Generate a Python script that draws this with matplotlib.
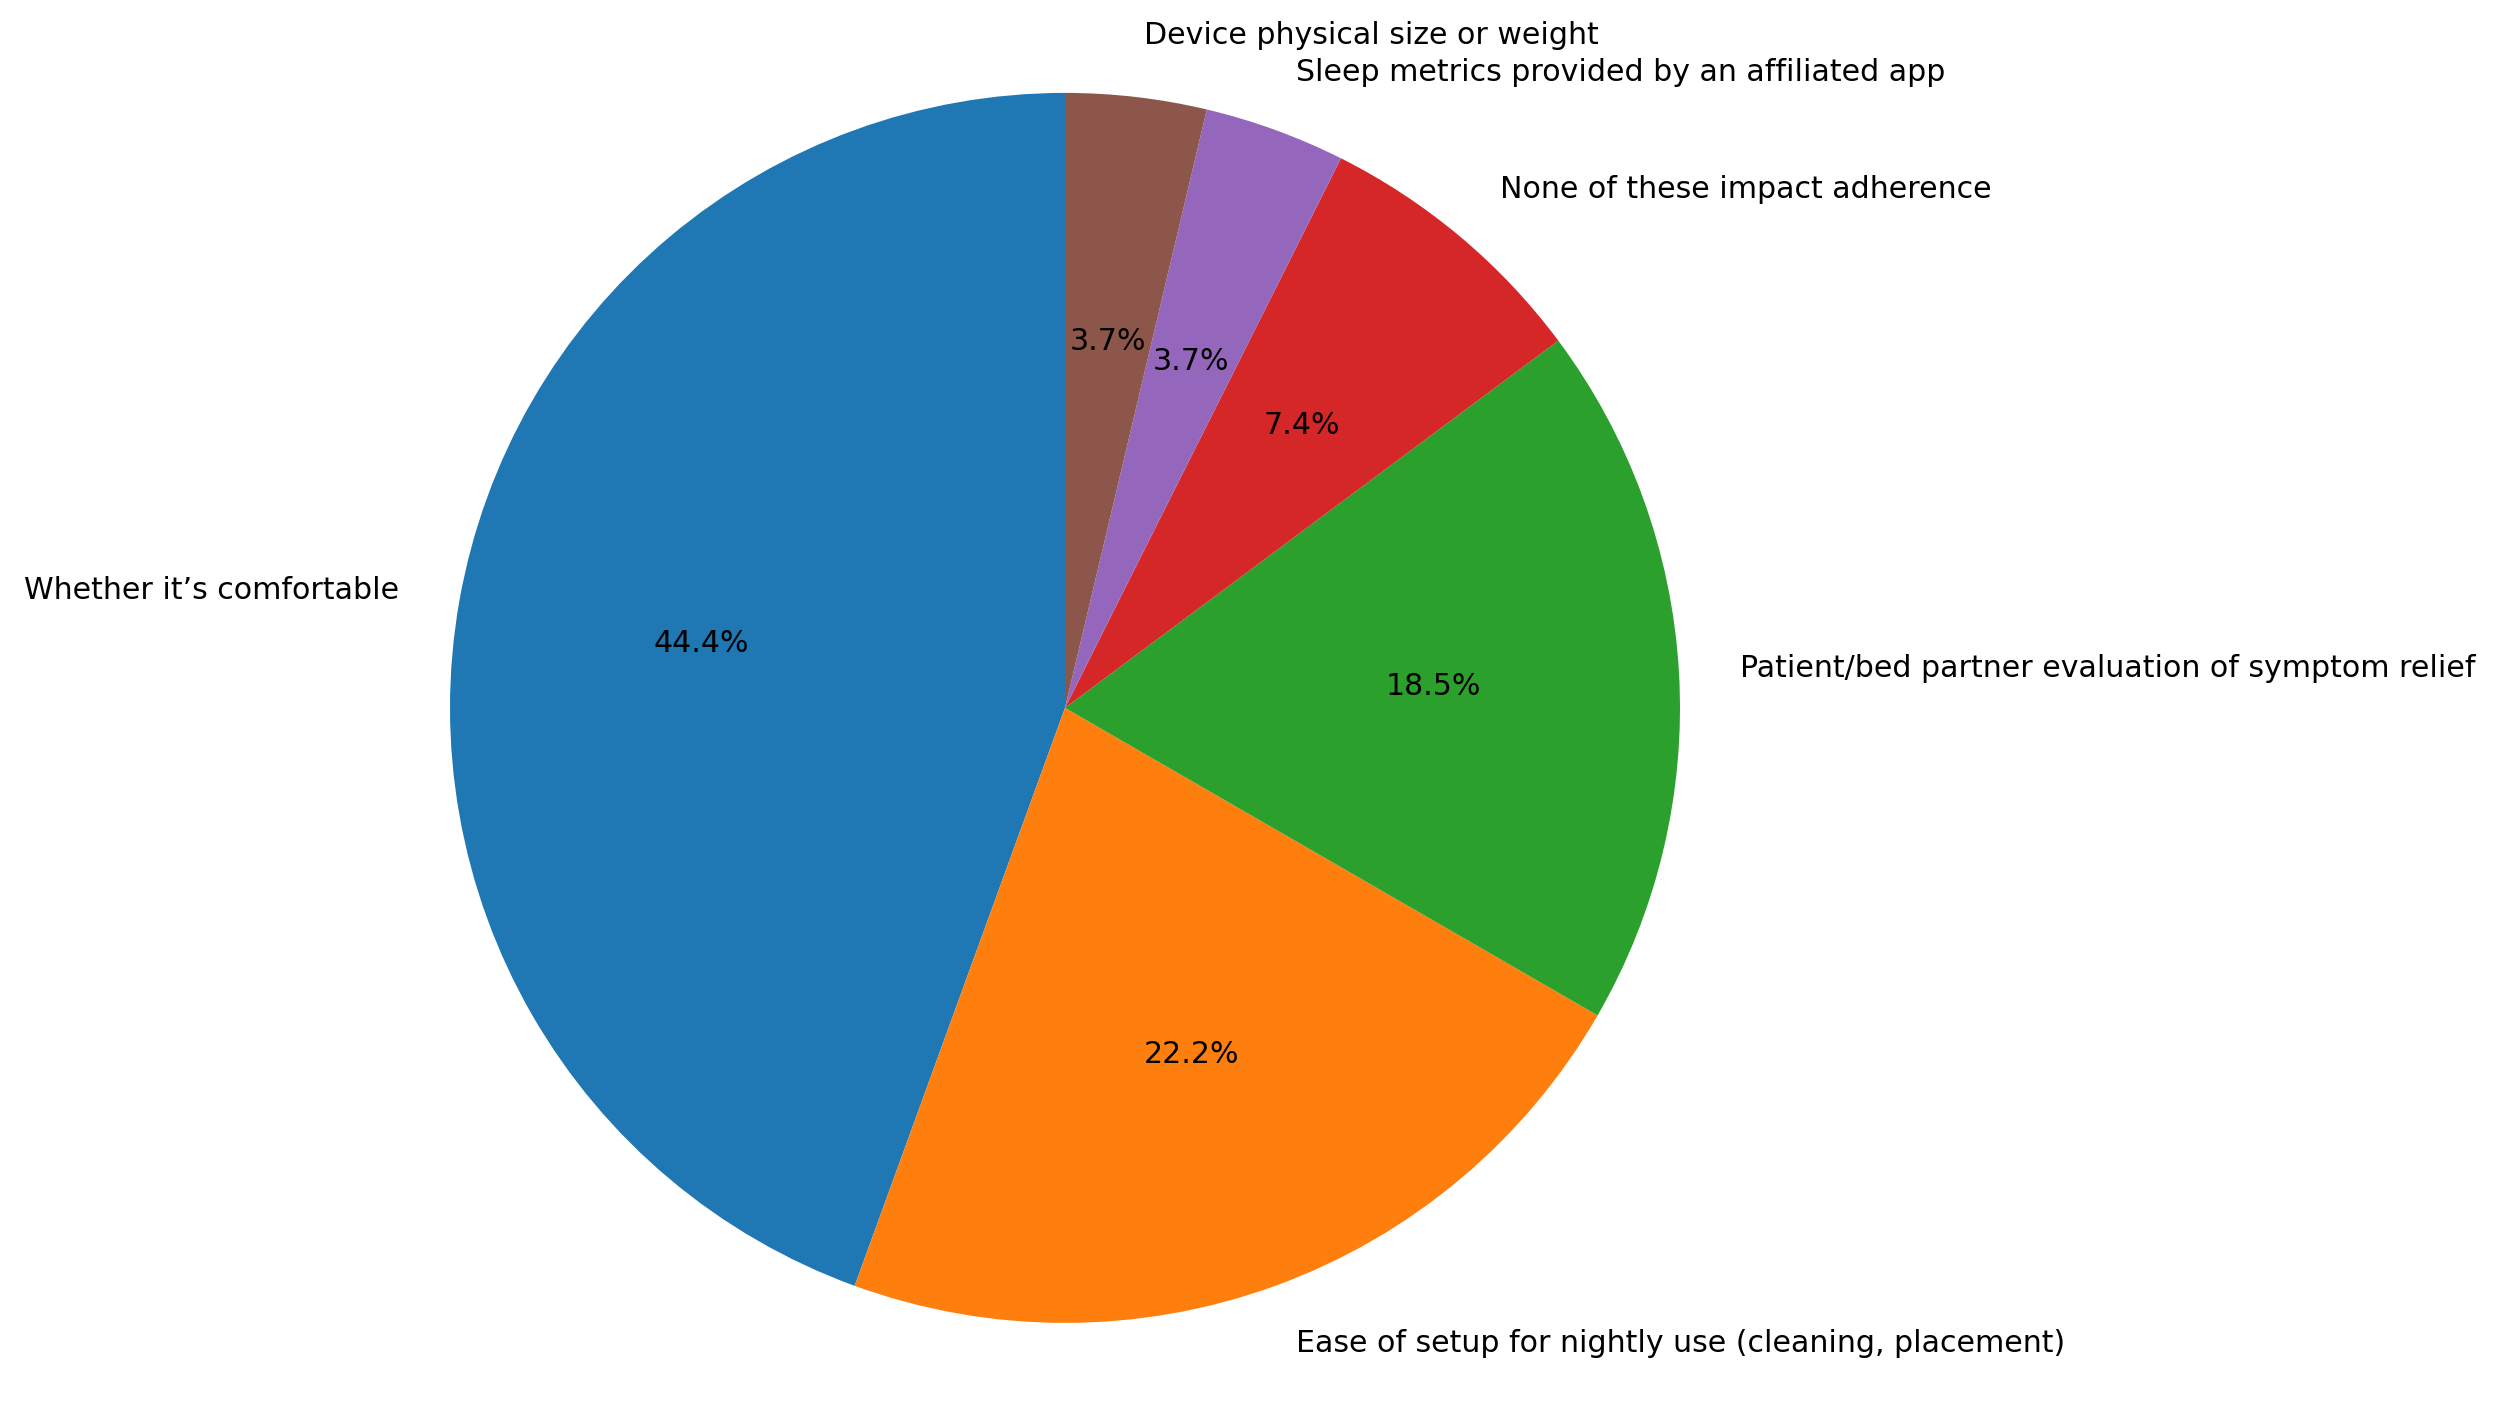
import numpy as np
import matplotlib
matplotlib.use('Agg')
import matplotlib.pyplot as plt

# Survey answers (count of respondents), order as drawn counter-clockwise from 12 o'clock
labels = [
    'Whether it\u2019s comfortable',
    'Ease of setup for nightly use (cleaning, placement)',
    'Patient/bed partner evaluation of symptom relief',
    'None of these impact adherence',
    'Sleep metrics provided by an affiliated app',
    'Device physical size or weight',
]
counts = [12, 6, 5, 2, 1, 1]
colors = ['#1f77b4', '#ff7f0e', '#2ca02c', '#d62728', '#9467bd', '#8c564b']

plt.rcParams['font.family'] = ['DejaVu Sans']

fig = plt.figure(figsize=(12.5, 7.005), dpi=200)
# square axes placed so the pie sits where it does in the reference
ax = fig.add_axes([0.1185, -0.054, 0.615, 0.615 * 2500 / 1401])

ax.pie(counts, labels=labels, colors=colors, autopct='%1.1f%%',
       startangle=90, textprops={'fontsize': 10.8})
ax.set_xlim(-1.25, 1.25)
ax.set_ylim(-1.25, 1.25)
ax.set_aspect('equal')

fig.savefig('out.png', dpi=200)
